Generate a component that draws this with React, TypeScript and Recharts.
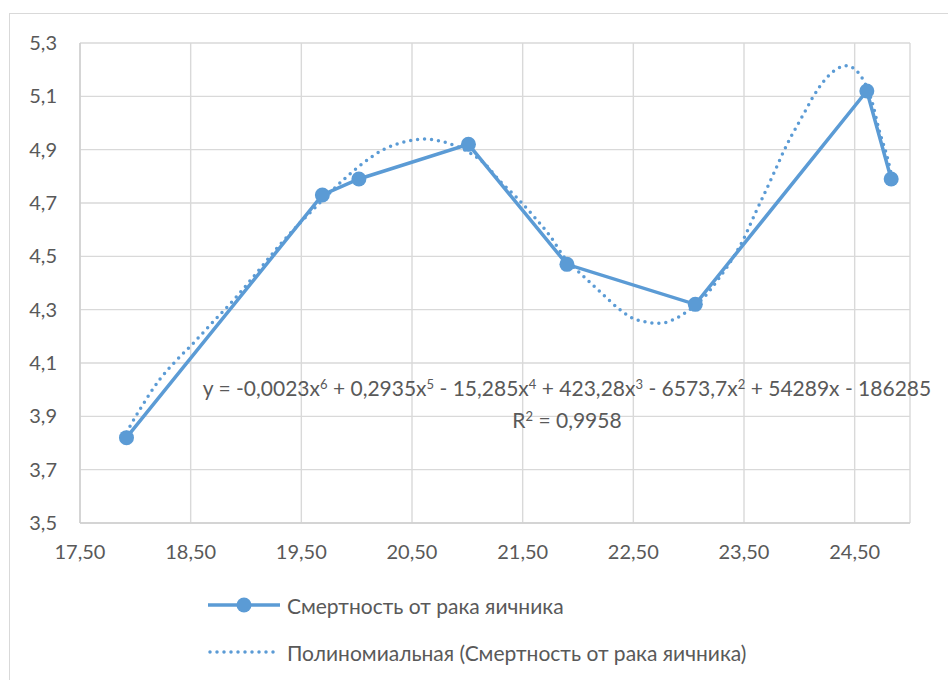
import { LineChart, Line, XAxis, YAxis, CartesianGrid, Legend } from "recharts";

const BLUE = "#5B9BD5";
const GRID = "#d9d9d9";
const TEXT = "#595959";
const FONT = "Lato, 'Noto Sans', 'DejaVu Sans', sans-serif";

// точки ряда (x - показатель, y - смертность)
const xValues = [17.92, 19.69, 20.02, 21.01, 21.9, 23.06, 24.61, 24.83];
const yValues = [3.82, 4.73, 4.79, 4.92, 4.47, 4.32, 5.12, 4.79];

// полиномиальная линия тренда
const trendX = [
  17.92, 18.04, 18.22, 18.36, 18.53, 18.72, 18.89, 19.1, 19.3, 19.49, 19.68,
  19.88, 20.06, 20.24, 20.45, 20.61, 20.82, 20.97, 21.15, 21.3, 21.45, 21.6,
  21.75, 21.87, 22.05, 22.21, 22.37, 22.49, 22.64, 22.72, 22.79, 22.91, 22.99,
  23.16, 23.26, 23.34, 23.49, 23.61, 23.68, 23.77, 23.86, 23.92, 24.0, 24.06,
  24.12, 24.19, 24.27, 24.35, 24.42, 24.48, 24.54, 24.58, 24.66, 24.72, 24.8, 24.83
];
const trendY = [
  3.84, 3.925, 4.038, 4.105, 4.177, 4.262, 4.337, 4.44, 4.54, 4.626, 4.706,
  4.787, 4.85, 4.9, 4.931, 4.94, 4.925, 4.9, 4.85, 4.78, 4.719, 4.65,
  4.575, 4.5, 4.425, 4.363, 4.303, 4.269, 4.252, 4.249, 4.252, 4.273, 4.294,
  4.356, 4.41, 4.456, 4.56, 4.669, 4.731, 4.812, 4.895, 4.945, 5.005, 5.05,
  5.095, 5.14, 5.18, 5.205, 5.215, 5.208, 5.185, 5.16, 5.075, 4.975, 4.863, 4.81
];

const xTicks = [17.5, 18.5, 19.5, 20.5, 21.5, 22.5, 23.5, 24.5];
const yTicks = [3.5, 3.7, 3.9, 4.1, 4.3, 4.5, 4.7, 4.9, 5.1, 5.3];

const seriesName = "Смертность от рака яичника";
const trendName = "Полиномиальная (Смертность от рака яичника)";

const seriesData = xValues.map((x, i) => ({ x, y: yValues[i] }));
const trendData = trendX.map((x, i) => ({ x, y: trendY[i] }));

const fmtX = (v: number) => v.toFixed(2).replace(".", ",");
const fmtY = (v: number) => v.toFixed(1).replace(".", ",");

const Sup = ({ children }: { children: any }) => (
  <span style={{ fontSize: "0.62em", verticalAlign: "0.55em" }}>{children}</span>
);

const renderLegend = () => (
  <div style={{ fontFamily: FONT, fontSize: 21, color: TEXT }}>
    <div style={{ display: "flex", alignItems: "center", height: 30 }}>
      <svg width={78} height={20} style={{ marginRight: 3 }}>
        <line x1={2} y1={10} x2={74} y2={10} stroke={BLUE} strokeWidth={3.5} />
        <circle cx={38} cy={10} r={7.5} fill={BLUE} />
      </svg>
      <span>{seriesName}</span>
    </div>
    <div style={{ display: "flex", alignItems: "center", height: 30, marginTop: 17 }}>
      <svg width={78} height={20} style={{ marginRight: 3 }}>
        <line
          x1={4}
          y1={10}
          x2={74}
          y2={10}
          stroke={BLUE}
          strokeWidth={3.5}
          strokeDasharray="0 7"
          strokeLinecap="round"
        />
      </svg>
      <span>{trendName}</span>
    </div>
  </div>
);

export default function App() {
  return (
    <div
      style={{
        position: "absolute",
        left: 0,
        top: 0,
        width: 948,
        height: 680,
        overflow: "hidden",
        background: "#fff"
      }}
    >
      {/* рамка области диаграммы */}
      <div
        style={{
          position: "absolute",
          left: 9,
          top: 13,
          width: 960,
          height: 700,
          borderLeft: `1.5px solid ${GRID}`,
          borderTop: `1.5px solid ${GRID}`
        }}
      />
      <div style={{ position: "absolute", left: 0, top: 0 }}>
        <LineChart
          width={948}
          height={680}
          margin={{ top: 43, right: 38, left: 0, bottom: 127 }}
        >
          <CartesianGrid stroke={GRID} strokeWidth={1.4} />
          <XAxis
            type="number"
            dataKey="x"
            domain={[17.5, 25]}
            ticks={xTicks}
            tickFormatter={fmtX}
            interval={0}
            allowDataOverflow
            height={30}
            tickLine={false}
            tickSize={0}
            tickMargin={22}
            axisLine={{ stroke: "#cfcfcf", strokeWidth: 1.4 }}
            tick={{ fill: TEXT, fontSize: 20, fontFamily: FONT }}
          />
          <YAxis
            type="number"
            dataKey="y"
            domain={[3.5, 5.3]}
            ticks={yTicks}
            tickFormatter={fmtY}
            interval={0}
            width={80}
            tickLine={false}
            tickSize={0}
            tickMargin={23}
            axisLine={{ stroke: "#cfcfcf", strokeWidth: 1.4 }}
            tick={{ fill: TEXT, fontSize: 20, fontFamily: FONT }}
          />
          <Line
            data={seriesData}
            dataKey="y"
            name={seriesName}
            type="linear"
            stroke={BLUE}
            strokeWidth={3.5}
            dot={{ r: 7.5, fill: BLUE, stroke: "none" }}
            activeDot={false}
            isAnimationActive={false}
          />
          <Line
            data={trendData}
            dataKey="y"
            name={trendName}
            type="monotone"
            stroke={BLUE}
            strokeWidth={3.5}
            strokeDasharray="0 7"
            strokeLinecap="round"
            dot={false}
            activeDot={false}
            isAnimationActive={false}
          />
          <Legend
            layout="vertical"
            align="center"
            verticalAlign="middle"
            content={renderLegend}
            wrapperStyle={{ left: 206, top: 590, width: 730 }}
          />
        </LineChart>
      </div>
      {/* уравнение тренда */}
      <div
        style={{
          position: "absolute",
          left: 150,
          width: 834,
          top: 370,
          textAlign: "center",
          fontFamily: FONT,
          fontSize: 21,
          lineHeight: "28px",
          color: TEXT,
          whiteSpace: "nowrap"
        }}
      >
        <div>
          y = -0,0023x<Sup>6</Sup> + 0,2935x<Sup>5</Sup> - 15,285x<Sup>4</Sup> + 423,28x
          <Sup>3</Sup> - 6573,7x<Sup>2</Sup> + 54289x - 186285
        </div>
        <div>
          R<Sup>2</Sup> = 0,9958
        </div>
      </div>
    </div>
  );
}
